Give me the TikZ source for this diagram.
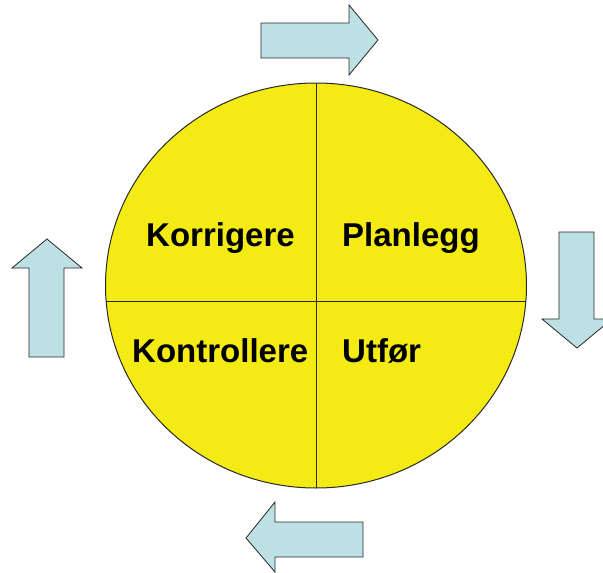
\documentclass[tikz,border=0pt]{standalone}
\usepackage{fontspec}
\usepackage{tikz}
\setmainfont{Liberation Sans}
\usetikzlibrary{positioning}
\definecolor{myellow}{RGB}{245, 235, 20}
\definecolor{mcyan}{RGB}{189, 224, 228}
\definecolor{mline}{RGB}{40, 40, 40}

\tikzset{
  blockarrow/.style={fill=mcyan, draw=mline, line width=0.8pt, line join=miter},
  phase/.style={anchor=base west, inner sep=0pt, font=\fontsize{33}{39}\selectfont\bfseries}
}

\begin{document}
\begin{tikzpicture}[x=1pt, y=-1pt]

      \clip (0, 0) rectangle (603, 573);

      % the wheel
      \fill [myellow] (316, 285.5) ellipse (210.5 and 202.5);
      \begin{scope}
        \clip (316, 285.5) ellipse (210.5 and 202.5);
        \draw [mline, line width=1pt] (316, 60) -- (316, 520);
        \draw [mline, line width=1pt] (90, 301) -- (540, 301);
      \end{scope}
      \draw [mline, line width=1pt] (316, 285.5) ellipse (210.5 and 202.5);

      \node [phase] (korr) at (146, 246) {Korrigere};
      \node [phase] (plan) at (342, 246) {Planlegg};
      \node [phase] (kont) at (132, 362) {Kontrollere};
      \node [phase] (utf) at (342, 362) {Utfør};

      % arrows round the wheel
      \draw [blockarrow] (261, 23) -- (349, 23) -- (349, 5) -- (378, 40)
        -- (349, 75) -- (349, 58) -- (261, 58) -- cycle;
      \draw [blockarrow] (559, 232) -- (594, 232) -- (594, 319) -- (612, 319)
        -- (577, 348) -- (542, 319) -- (559, 319) -- cycle;
      \draw [blockarrow] (363, 522) -- (275, 522) -- (275, 502) -- (246, 538)
        -- (275, 572) -- (275, 557) -- (363, 557) -- cycle;
      \draw [blockarrow] (29, 357) -- (29, 268) -- (12, 268) -- (47, 239)
        -- (82, 268) -- (64, 268) -- (64, 357) -- cycle;

    \end{tikzpicture}
\end{document}
